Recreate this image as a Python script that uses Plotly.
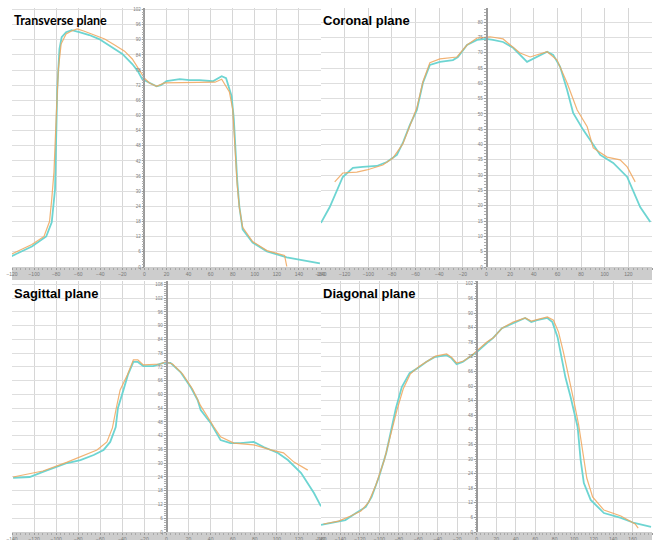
import plotly.graph_objects as go

# ---------------- data ----------------
# Transverse plane
tr_teal_x = [-121, -102, -89, -84, -81, -80, -79, -77, -75, -71, -66, -59, -50, -41, -32, -20, -11, -6, -2, 4.5, 11, 15, 20, 32, 41, 50, 62, 70, 74, 77, 79, 81, 82, 84, 86, 89, 98, 111, 129, 159]
tr_teal_y = [4.2, 8.1, 12.1, 17.7, 30.8, 50.6, 70.5, 86.3, 91, 93, 93.8, 93, 91.9, 90.3, 87.9, 84.4, 80.4, 77.6, 74.4, 72.9, 71.6, 72, 73.6, 74.4, 74, 74, 73.6, 75.6, 74.8, 70.5, 67.7, 58.6, 50.6, 34.7, 24, 14.9, 9.7, 6.2, 3.8, 1.4]
tr_orange_x = [-121, -102, -91, -86, -84, -82, -80, -78, -75.5, -71, -66, -61, -55, -45.5, -36, -27, -18, -11, -4.5, 0, 4.5, 11, 18, 27, 41, 55, 64, 70, 74, 77, 80, 82, 84, 86, 89, 98, 111, 127, 128, 129]
tr_orange_y = [5, 8.9, 12.1, 18, 26.8, 37.5, 58.6, 78.4, 88.3, 92.3, 93.5, 94.3, 93.5, 91.9, 90.3, 87.9, 85.5, 82.4, 77.6, 74.8, 72.9, 71.6, 72.9, 72.9, 72.9, 72.9, 73.2, 74.4, 71.2, 69.3, 62.5, 46.6, 32.7, 23.6, 15.7, 10.1, 6.5, 4.6, 2.2, 0.2]

# Coronal plane
co_teal_x = [-140, -132.6, -121.6, -113, -104.7, -92.8, -84.3, -75.8, -70.8, -64.8, -58.9, -53.8, -47.9, -39.4, -28.4, -24.2, -16.5, -8, -0.4, 5.5, 14, 22.5, 34.3, 42.8, 51.3, 56.4, 62.3, 68.2, 73.3, 81.8, 96.2, 107.2, 119, 130, 138.6]
co_teal_y = [14.4, 19.6, 29.4, 32.4, 32.7, 33, 34.3, 36.6, 40.5, 46.4, 51.3, 60.1, 66, 67, 67.6, 68.6, 72.5, 74.2, 74.5, 74.2, 73.5, 71.6, 67, 68.6, 70.3, 69.3, 65.4, 57.8, 50.3, 44.8, 36.6, 34, 29.4, 19.6, 14.7]
co_orange_x = [-128.4, -121.6, -109.7, -101.3, -87.7, -79.2, -70.8, -58.9, -53.8, -47.9, -39.4, -25, -16.5, -8, 3, 14, 28.4, 36.9, 51.3, 59.7, 68.2, 76.7, 85.2, 90.3, 102, 113, 119, 125.8]
co_orange_y = [27.8, 30.7, 31, 31.7, 33.3, 35.6, 40.2, 52, 60.5, 66.7, 68, 68.6, 72.5, 74.8, 75.2, 74.5, 69.9, 68.6, 70.3, 67.6, 60.1, 51.3, 45.8, 38.9, 35.9, 35, 32.7, 27.8]

# Sagittal plane
sa_teal_x = [-139, -124, -112, -103, -90, -78, -66, -57, -51, -46, -44, -39, -35, -30, -26, -21, -12, -3, 3.6, 12.7, 21.8, 28.2, 31, 40, 49, 58, 67, 79, 88, 101, 110, 122, 133.6, 140]
sa_teal_y = [23.6, 24, 26.2, 27.9, 30.1, 31.4, 33.6, 35.8, 39.3, 45.8, 54.1, 62, 68.5, 74.2, 74.2, 72.4, 72.4, 73.8, 73.8, 69.8, 63.3, 57.6, 53.2, 47.6, 40.1, 38.8, 38.8, 39.3, 37.1, 34.5, 31.4, 25.7, 17, 11.2]
sa_orange_x = [-139, -112, -90, -78, -63, -54, -49, -45.5, -42, -35.5, -30, -26, -21, -5.5, -1, 5.5, 14.5, 23.6, 31, 43, 49, 61, 79, 94.5, 106, 115.5, 128]
sa_orange_y = [24, 26.6, 30.5, 32.7, 35.8, 39.3, 45.4, 54.1, 62, 68.5, 75.1, 75.1, 72.9, 73.3, 74.2, 73.3, 69, 62.4, 55, 45.8, 41.5, 38.8, 38, 35.8, 34.5, 30.5, 27]

# Diagonal plane
di_teal_x = [-160, -149, -135, -124, -114, -108, -100.5, -93, -87, -83, -77, -69, -59, -52, -43.5, -31, -26, -20.7, -14.5, -5, 0, 10.4, 16.6, 25.9, 37.3, 49.7, 56, 62, 72.5, 77.7, 83, 86, 91, 96.4, 99.5, 103.6, 106.7, 110, 117, 130.6, 148, 161.7, 179]
di_teal_y = [2.9, 3.7, 4.9, 7.8, 10.3, 14.4, 22.6, 32.5, 43.2, 51, 59.6, 65.3, 67.8, 69.9, 71.9, 72.7, 71.5, 69, 69.9, 72.7, 74, 77.7, 79.7, 83.8, 85.9, 88, 86.3, 87.1, 88, 86.3, 80.1, 73.6, 63.7, 55.5, 50.1, 43.2, 29.6, 20.1, 13.2, 7.8, 5.8, 3.7, 2.1]
di_orange_x = [-157.5, -142, -129.5, -119, -111, -103.6, -95, -88, -82, -75.6, -68.4, -59, -51, -42.5, -31, -26, -20.7, -13.5, -5, 0, 10.4, 17.6, 25.9, 37.3, 49.7, 56, 63.2, 72.5, 78.8, 84, 89, 94.3, 99.5, 104.7, 108.8, 113, 119, 130.6, 148, 162.7, 165.8]
di_orange_y = [3.3, 4.5, 6.6, 8.6, 12.3, 19.3, 29.6, 41.1, 50.1, 58.8, 64.9, 68.2, 70.3, 72.3, 73.2, 71.9, 69.5, 70.3, 72.7, 74.4, 78.1, 80.1, 83.8, 86.3, 88, 86.7, 87.5, 88.4, 87.1, 82.2, 74, 64.5, 54.3, 44, 33.7, 22.2, 14.4, 9, 6.6, 3.3, 1.6]

panel_titles = ["Transverse plane", "Coronal plane", "Sagittal plane", "Diagonal plane"]

# ---------------- layout ----------------
W, H = 656, 540
TEAL = "#66d3d0"
ORANGE = "#f0a65c"

panels = [
    dict(tx=tr_teal_x, ty=tr_teal_y, ox=tr_orange_x, oy=tr_orange_y,
         xr=[-120, 160], yr=[0, 102.6], ydt=6, px=(12, 321), py=(8, 267), band=13,
         title_font="Lato", title_size=12.5),
    dict(tx=co_teal_x, ty=co_teal_y, ox=co_orange_x, oy=co_orange_y,
         xr=[-140, 140], yr=[0, 84.6], ydt=5, px=(321, 652), py=(8, 267), band=13,
         title_font="Liberation Sans", title_size=13),
    dict(tx=sa_teal_x, ty=sa_teal_y, ox=sa_orange_x, oy=sa_orange_y,
         xr=[-140, 140], yr=[0, 109.5], ydt=6, px=(12, 321), py=(281, 532), band=10,
         title_font="Liberation Sans", title_size=13),
    dict(tx=di_teal_x, ty=di_teal_y, ox=di_orange_x, oy=di_orange_y,
         xr=[-160, 180], yr=[0, 103.2], ydt=6, px=(321, 652), py=(281, 532), band=10,
         title_font="Liberation Sans", title_size=13),
]

fig = go.Figure()
layout = dict(width=W, height=H, margin=dict(l=0, r=0, t=0, b=0, autoexpand=False),
              paper_bgcolor="white", plot_bgcolor="white", showlegend=False)
shapes = []
annotations = []

for i, p in enumerate(panels):
    n = "" if i == 0 else str(i + 1)
    xa, ya = "x" + n, "y" + n
    xd = [p["px"][0] / W, p["px"][1] / W]
    yd = [1 - p["py"][1] / H, 1 - p["py"][0] / H]
    pos = xd[0] + (0 - p["xr"][0]) / (p["xr"][1] - p["xr"][0]) * (xd[1] - xd[0])

    fig.add_trace(go.Scatter(x=p["tx"], y=p["ty"], mode="lines", xaxis=xa, yaxis=ya,
                             line=dict(color=TEAL, width=1.8), opacity=0.95))
    fig.add_trace(go.Scatter(x=p["ox"], y=p["oy"], mode="lines", xaxis=xa, yaxis=ya,
                             line=dict(color=ORANGE, width=1.2), opacity=0.85))

    layout["xaxis" + n] = dict(domain=xd, range=p["xr"], anchor=ya, dtick=20, tick0=0,
                               showgrid=True, gridcolor="#d6d6d6", gridwidth=1.4,
                               zeroline=False, showline=False, ticks="outside",
                               ticklen=2, tickcolor="#9a9a9a",
                               minor=dict(ticks="outside", ticklen=1.5, dtick=4, tickcolor="#a8a8a8"),
                               tickfont=dict(size=5, color="#777777", family="Liberation Sans"),
                               fixedrange=True)
    layout["yaxis" + n] = dict(domain=yd, range=p["yr"], anchor="free", position=pos,
                               dtick=p["ydt"], tick0=0,
                               showgrid=True, gridcolor="#dedede", gridwidth=1,
                               zeroline=False, showline=True, linecolor="#9a9a9a", linewidth=1.5,
                               ticks="outside", ticklen=2, tickcolor="#9a9a9a",
                               minor=dict(ticks="outside", ticklen=1.5, dtick=1, tickcolor="#b0b0b0"),
                               tickfont=dict(size=4.5, color="#808080", family="Liberation Sans"),
                               showticklabels=True, fixedrange=True)
    # grey band under the plot (x scale strip)
    shapes.append(dict(type="rect", xref="paper", yref="paper",
                       x0=p["px"][0] / W, x1=p["px"][1] / W,
                       y0=1 - (p["py"][1] + p["band"]) / H, y1=1 - p["py"][1] / H,
                       fillcolor="#cdcdcd", line=dict(width=0), layer="below"))
    annotations.append(dict(text="<b>%s</b>" % panel_titles[i], xref="paper", yref="paper",
                            x=(p["px"][0] + 0) / W, y=1 - (p["py"][0] + 3) / H,
                            xanchor="left", yanchor="top", showarrow=False,
                            font=dict(size=p["title_size"], color="black", family=p["title_font"])))

layout["shapes"] = shapes
layout["annotations"] = annotations
fig.update_layout(**layout)
fig.write_html("out.html", config={"displayModeBar": False},
               post_script="document.body.style.margin='0px';document.body.style.overflow='hidden';")
